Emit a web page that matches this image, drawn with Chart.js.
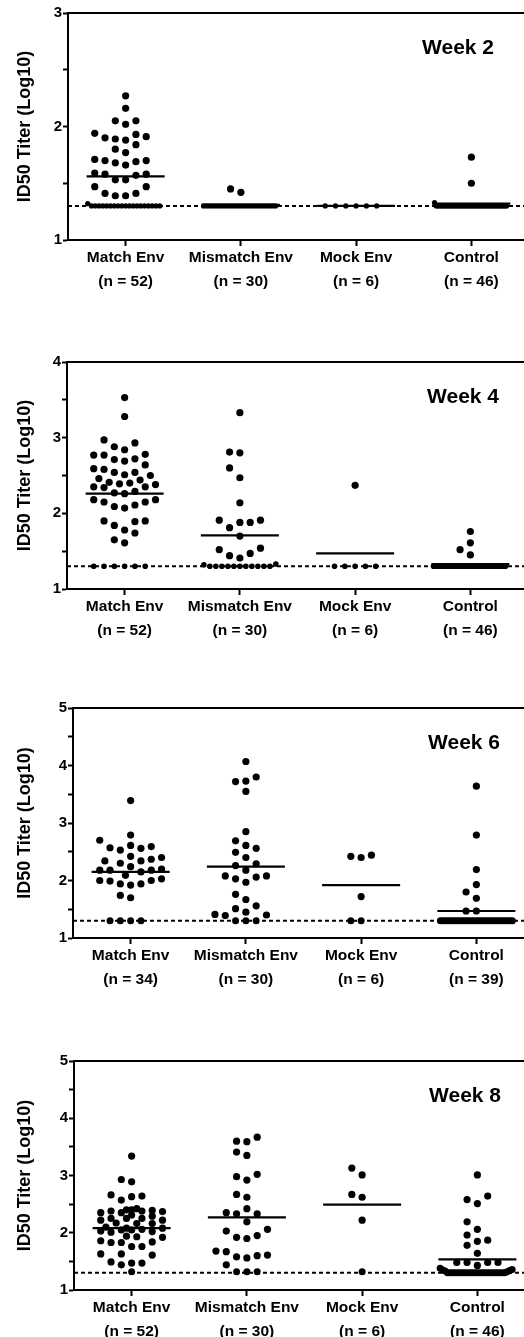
<!DOCTYPE html>
<html>
<head>
<meta charset="utf-8">
<script src="https://cdn.jsdelivr.net/npm/chart.js@4.4.1/dist/chart.umd.min.js"></script>
<style>
html,body{margin:0;padding:0;background:#fff;overflow:hidden;}
#wrap{position:relative;width:524px;height:1337px;overflow:hidden;background:#fff;}
.panel{position:absolute;left:0;}
canvas{display:block;}
</style>
</head>
<body>
<div id="wrap"></div>
<script>
// ---------------- DATA ----------------
const categories = ["Match Env", "Mismatch Env", "Mock Env", "Control"];
const LOD = 1.3;
const yTitle = "ID50 Titer (Log10)";
const panelTitles = ["Week 2", "Week 4", "Week 6", "Week 8"];

const week2N = ["(n = 52)", "(n = 30)", "(n = 6)", "(n = 46)"];
const week4N = ["(n = 52)", "(n = 30)", "(n = 6)", "(n = 46)"];
const week6N = ["(n = 34)", "(n = 30)", "(n = 6)", "(n = 39)"];
const week8N = ["(n = 52)", "(n = 30)", "(n = 6)", "(n = 46)"];

const week2Match = [2.27, 2.16, 2.05, 2.02, 2.05, 1.94, 1.91, 1.89, 1.88, 1.90, 1.93, 1.84, 1.77, 1.80,
  1.71, 1.70, 1.68, 1.66, 1.69, 1.70, 1.58, 1.57, 1.53, 1.53, 1.58, 1.59, 1.47, 1.41, 1.39, 1.41, 1.47,
  1.39, 1.32, 1.3, 1.3, 1.3, 1.3, 1.3, 1.3, 1.3, 1.3, 1.3, 1.3, 1.3, 1.3, 1.3, 1.3, 1.3, 1.3, 1.3, 1.3, 1.3];
const week2Mismatch = [1.45, 1.42, 1.3, 1.3, 1.3, 1.3, 1.3, 1.3, 1.3, 1.3, 1.3, 1.3, 1.3, 1.3, 1.3, 1.3,
  1.3, 1.3, 1.3, 1.3, 1.3, 1.3, 1.3, 1.3, 1.3, 1.3, 1.3, 1.3, 1.3, 1.3];
const week2Mock = [1.3, 1.3, 1.3, 1.3, 1.3, 1.3];
const week2Control = [1.73, 1.50, 1.33, 1.3, 1.3, 1.3, 1.3, 1.3, 1.3, 1.3, 1.3, 1.3, 1.3, 1.3, 1.3, 1.3,
  1.3, 1.3, 1.3, 1.3, 1.3, 1.3, 1.3, 1.3, 1.3, 1.3, 1.3, 1.3, 1.3, 1.3, 1.3, 1.3, 1.3, 1.3, 1.3, 1.3,
  1.3, 1.3, 1.3, 1.3, 1.3, 1.3, 1.3, 1.3, 1.3, 1.3];
const week2Means = [1.56, 1.31, 1.30, 1.32];

const week4Match = [3.53, 3.28, 2.97, 2.93, 2.88, 2.84, 2.78, 2.77, 2.77, 2.72, 2.71, 2.69, 2.64, 2.59,
  2.58, 2.54, 2.54, 2.51, 2.50, 2.46, 2.44, 2.41, 2.40, 2.39, 2.38, 2.35, 2.35, 2.34, 2.29, 2.27, 2.26,
  2.18, 2.18, 2.15, 2.15, 2.11, 2.09, 2.07, 1.90, 1.90, 1.89, 1.84, 1.78, 1.74, 1.65, 1.61,
  1.3, 1.3, 1.3, 1.3, 1.3, 1.3];
const week4Mismatch = [3.33, 2.81, 2.80, 2.60, 2.47, 2.14, 1.91, 1.91, 1.88, 1.88, 1.81, 1.70, 1.54, 1.52,
  1.47, 1.44, 1.41, 1.33, 1.32, 1.3, 1.3, 1.3, 1.3, 1.3, 1.3, 1.3, 1.3, 1.3, 1.3, 1.3];
const week4Mock = [2.37, 1.3, 1.3, 1.3, 1.3, 1.3];
const week4Control = [1.76, 1.61, 1.52, 1.45, 1.3, 1.3, 1.3, 1.3, 1.3, 1.3, 1.3, 1.3, 1.3, 1.3, 1.3, 1.3,
  1.3, 1.3, 1.3, 1.3, 1.3, 1.3, 1.3, 1.3, 1.3, 1.3, 1.3, 1.3, 1.3, 1.3, 1.3, 1.3, 1.3, 1.3, 1.3, 1.3,
  1.3, 1.3, 1.3, 1.3, 1.3, 1.3, 1.3, 1.3, 1.3, 1.3];
const week4Means = [2.26, 1.71, 1.47, 1.33];

const week6Match = [3.39, 2.79, 2.70, 2.61, 2.59, 2.57, 2.56, 2.53, 2.42, 2.40, 2.37, 2.34, 2.34, 2.30,
  2.24, 2.20, 2.18, 2.18, 2.18, 2.15, 2.09, 2.03, 2.00, 2.00, 1.99, 1.94, 1.94, 1.92, 1.74, 1.70,
  1.3, 1.3, 1.3, 1.3];
const week6Mismatch = [4.07, 3.80, 3.73, 3.72, 3.55, 2.85, 2.69, 2.61, 2.56, 2.49, 2.40, 2.29, 2.26, 2.18,
  2.08, 2.08, 2.06, 2.03, 1.97, 1.76, 1.67, 1.56, 1.51, 1.45, 1.41, 1.40, 1.39, 1.3, 1.3, 1.3];
const week6Mock = [2.44, 2.42, 2.40, 1.72, 1.3, 1.3];
const week6Control = [3.64, 2.79, 2.19, 1.93, 1.80, 1.69, 1.47, 1.47, 1.3, 1.3, 1.3, 1.3, 1.3, 1.3, 1.3,
  1.3, 1.3, 1.3, 1.3, 1.3, 1.3, 1.3, 1.3, 1.3, 1.3, 1.3, 1.3, 1.3, 1.3, 1.3, 1.3, 1.3, 1.3, 1.3, 1.3,
  1.3, 1.3, 1.3, 1.3];
const week6Means = [2.15, 2.24, 1.92, 1.47];

const week8Match = [3.34, 2.93, 2.89, 2.66, 2.64, 2.63, 2.57, 2.42, 2.40, 2.40, 2.39, 2.38, 2.38, 2.37,
  2.35, 2.35, 2.31, 2.29, 2.25, 2.25, 2.25, 2.22, 2.22, 2.17, 2.16, 2.16, 2.10, 2.08, 2.08, 2.06, 2.05,
  2.05, 2.03, 2.02, 2.01, 1.94, 1.93, 1.92, 1.86, 1.84, 1.83, 1.83, 1.76, 1.76, 1.63, 1.63, 1.61, 1.49,
  1.47, 1.47, 1.44, 1.32];
const week8Mismatch = [3.67, 3.60, 3.59, 3.41, 3.35, 3.02, 2.98, 2.92, 2.67, 2.62, 2.42, 2.35, 2.33, 2.33,
  2.19, 2.06, 2.03, 1.95, 1.92, 1.90, 1.68, 1.67, 1.61, 1.60, 1.58, 1.56, 1.44, 1.32, 1.32, 1.32];
const week8Mock = [3.13, 3.01, 2.67, 2.62, 2.22, 1.32];
const week8Control = [3.01, 2.64, 2.58, 2.51, 2.19, 2.06, 1.96, 1.87, 1.85, 1.78, 1.64, 1.48, 1.48, 1.48,
  1.48, 1.43, 1.38, 1.36, 1.35, 1.34, 1.33, 1.32, 1.3, 1.3, 1.3, 1.3, 1.3, 1.3, 1.3, 1.3, 1.3, 1.3, 1.3,
  1.3, 1.3, 1.3, 1.3, 1.3, 1.3, 1.3, 1.3, 1.3, 1.3, 1.3, 1.3, 1.3];
const week8Means = [2.08, 2.27, 2.49, 1.535];

// ---------------- LAYOUT ----------------
const FONT = "'Liberation Sans', Arial, Helvetica, sans-serif";
Chart.defaults.font.family = FONT;
Chart.defaults.color = '#000';

const PAD_TOP = 12, X_AXIS_H = 56, CANVAS_W = 545;
const panels = [
  {title: panelTitles[0], n: week2N, groups: [week2Match, week2Mismatch, week2Mock, week2Control], means: week2Means,
   yMax: 3, top: 1, plotH: 227, axisW: 68, right: 529, baseR: 2.6, titleRight: 494},
  {title: panelTitles[1], n: week4N, groups: [week4Match, week4Mismatch, week4Mock, week4Control], means: week4Means,
   yMax: 4, top: 350, plotH: 227, axisW: 67, right: 528, baseR: 2.8, titleRight: 499},
  {title: panelTitles[2], n: week6N, groups: [week6Match, week6Mismatch, week6Mock, week6Control], means: week6Means,
   yMax: 5, top: 696, plotH: 229.5, axisW: 73, right: 534, baseR: 3.5, titleRight: 500},
  {title: panelTitles[3], n: week8N, groups: [week8Match, week8Mismatch, week8Mock, week8Control], means: week8Means,
   yMax: 5, top: 1049, plotH: 229, axisW: 74, right: 535, baseR: 3.5, titleRight: 501},
];

function slotIndex(t) { return t === 0 ? 0 : (t % 2 === 1 ? -(t + 1) / 2 : t / 2); }

// column-scatter layout: spread points horizontally (max 7 columns) so that they overlap as little as possible
function swarm(values, center, pxX, pxY) {
  const STEP = 10.3, D = 10, DB = 7, BASE_EPS = 5, MAXW = 72;
  const base = [], rest = [];
  values.forEach(v => (((v - LOD) * pxY <= BASE_EPS) ? base : rest).push(v));
  base.sort((a, b) => a - b);
  const k = base.length;
  const s = k > 1 ? Math.min(STEP, MAXW / (k - 1)) : 0;
  const placed = [];
  base.forEach((v, i) => placed.push({dx: slotIndex(i) * s, v, base: true}));
  const candidates = [0, -1, 1, -2, 2, -3, 3, -0.5, 0.5, -1.5, 1.5, -2.5, 2.5];
  rest.sort((a, b) => a - b).forEach(v => {
    let best = 0, bestScore = -1;
    for (let t = 0; t < candidates.length; t++) {
      const dx = candidates[t] * STEP;
      let score = Infinity;
      placed.forEach(p => {
        const ddx = p.dx - dx, ddy = (p.v - v) * pxY, lim = p.base ? DB : D;
        score = Math.min(score, Math.sqrt(ddx * ddx + ddy * ddy) / lim);
      });
      if (score >= 1) { best = dx; bestScore = score; break; }
      if (score > bestScore + 0.05) { bestScore = score; best = dx; }
    }
    placed.push({dx: best, v, base: false});
  });
  return placed.map(p => ({x: center + p.dx / pxX, y: p.v, base: p.base}));
}

const framePlugin = {
  id: 'frame',
  afterDraw(chart, args, opts) {
    const {ctx, chartArea} = chart;
    ctx.save();
    ctx.strokeStyle = '#000';
    ctx.lineWidth = 2;
    ctx.beginPath();
    ctx.moveTo(chartArea.left - 1, chartArea.top);
    ctx.lineTo(chartArea.right + 10, chartArea.top);
    ctx.stroke();
    ctx.fillStyle = '#000';
    ctx.font = "bold 21px " + FONT;
    ctx.textAlign = 'right';
    ctx.textBaseline = 'middle';
    ctx.fillText(opts.title, opts.right, chartArea.top + 35);
    ctx.restore();
  }
};

const wrap = document.getElementById('wrap');
panels.forEach(p => {
  const H = Math.round(PAD_TOP + p.plotH + X_AXIS_H);
  const div = document.createElement('div');
  div.className = 'panel';
  div.style.top = p.top + 'px';
  div.style.width = CANVAS_W + 'px';
  div.style.height = H + 'px';
  const cv = document.createElement('canvas');
  cv.width = CANVAS_W; cv.height = H;
  cv.style.width = CANVAS_W + 'px'; cv.style.height = H + 'px';
  div.appendChild(cv);
  wrap.appendChild(div);

  const pxX = (p.right - p.axisW) / 4;
  const pxY = p.plotH / (p.yMax - 1);
  const halfW = 39 / pxX;

  const datasets = [];
  datasets.push({
    type: 'line', data: [{x: 0.5, y: LOD}, {x: 4.5, y: LOD}],
    borderColor: '#000', borderWidth: 2, borderDash: [4, 3], pointRadius: 0, fill: false, order: 3
  });
  p.means.forEach((m, i) => {
    datasets.push({
      type: 'line', data: [{x: i + 1 - halfW, y: m}, {x: i + 1 + halfW, y: m}],
      borderColor: '#000', borderWidth: 2.2, pointRadius: 0, fill: false, order: 2
    });
  });
  p.groups.forEach((vals, i) => {
    datasets.push({
      type: 'scatter', data: swarm(vals, i + 1, pxX, pxY),
      pointRadius: c => (c.raw && c.raw.base) ? p.baseR : 3.6,
      pointBackgroundColor: '#000', pointBorderWidth: 0, pointBorderColor: '#000', order: 1
    });
  });

  new Chart(cv, {
    type: 'scatter',
    data: {datasets},
    options: {
      responsive: false, animation: false, devicePixelRatio: 1,
      layout: {padding: {top: PAD_TOP, right: CANVAS_W - p.right, bottom: 0, left: 0}},
      plugins: {legend: {display: false}, tooltip: {enabled: false}, frame: {title: p.title, right: p.titleRight}},
      scales: {
        x: {
          type: 'linear', min: 0.5, max: 4.5,
          afterBuildTicks: ax => { ax.ticks = [1, 2, 3, 4].map(v => ({value: v})); },
          afterFit: ax => { ax.height = X_AXIS_H; },
          grid: {display: true, drawOnChartArea: false, drawTicks: true, tickLength: 6, tickWidth: 2, tickColor: '#000'},
          border: {display: true, color: '#000', width: 2},
          ticks: {
            autoSkip: false, maxRotation: 0, minRotation: 0, padding: 0, color: '#000',
            font: {size: 15.5, weight: 'bold', lineHeight: 1.55},
            callback: v => [categories[v - 1], p.n[v - 1]]
          }
        },
        y: {
          type: 'linear', min: 1, max: p.yMax,
          afterBuildTicks: ax => {
            const t = [];
            for (let v = 1; v <= p.yMax + 1e-9; v += 0.5) t.push({value: v});
            ax.ticks = t;
          },
          afterFit: ax => { ax.width = p.axisW; },
          title: {display: true, text: yTitle, color: '#000', font: {size: 18, weight: 'bold'}, padding: {top: 14, bottom: 0}},
          grid: {display: true, drawOnChartArea: false, drawTicks: true, tickLength: 5, tickWidth: 2, tickColor: '#000'},
          border: {display: true, color: '#000', width: 2},
          ticks: {
            autoSkip: false, padding: 1, color: '#000', font: {size: 15, weight: 'bold'},
            callback: v => Number.isInteger(v) ? String(v) : ''
          }
        }
      }
    },
    plugins: [framePlugin]
  });
});
</script>
</body>
</html>
